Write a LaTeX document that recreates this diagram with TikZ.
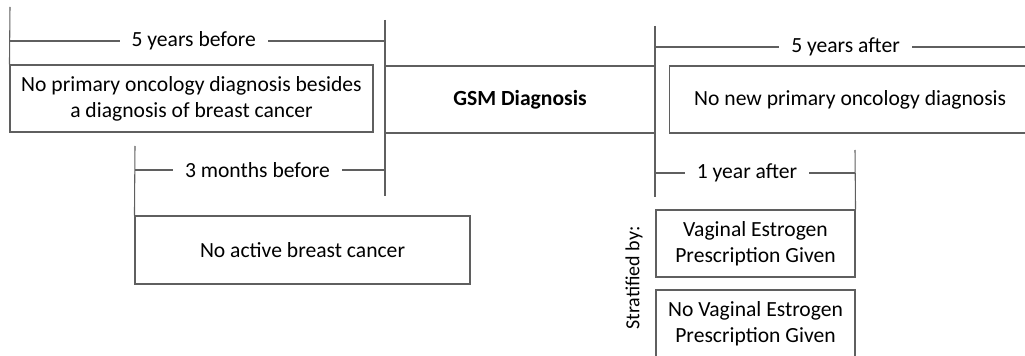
\documentclass[tikz,border=0pt]{standalone}
\usepackage{fontspec}
\setmainfont{Carlito}
\usetikzlibrary{positioning}
\definecolor{linegray}{RGB}{95,95,95}

\tikzset{
    box/.style={draw=linegray, line width=0.8pt, align=center, inner sep=0pt},
    span/.style={draw=linegray, line width=0.8pt},
    spanlabel/.style={fill=white, inner xsep=9pt, inner ysep=1pt}
}

\begin{document}
\begin{tikzpicture}[x=0.75pt, y=-0.75pt, font=\fontsize{16.2}{19.5}\selectfont]
    \useasboundingbox (0,0) rectangle (1025,356);
    \clip (0,0) rectangle (1025,356);

    % boxes
    \node[box, minimum width=272.25pt, minimum height=50.25pt] (before5) at (191.5,98.5)
        {No primary oncology diagnosis besides\\a diagnosis of breast cancer};
    \node[box, minimum width=202.5pt, minimum height=50.25pt, font=\fontsize{16.2}{19.5}\selectfont\bfseries] (gsm) at (520,99.5) {GSM Diagnosis};
    \node[box, minimum width=282pt, minimum height=50.25pt, anchor=west] (after5) at (669,99.5) {\hspace*{-11pt}No new primary oncology diagnosis};
    \node[box, minimum width=251.25pt, minimum height=51pt] (before3) at (302.5,250) {No active breast cancer};
    \node[box, minimum width=149.25pt, minimum height=50.25pt] (estro) at (755.5,243.5)
        {Vaginal Estrogen\\Prescription Given};
    \node[box, minimum width=149.25pt, minimum height=50.25pt] (noestro) at (755.5,323.5)
        {No Vaginal Estrogen\\Prescription Given};
    \node[rotate=90, font=\fontsize{15}{18}\selectfont] (strat) at (634,278) {Stratified by:};

    % bracket ends
    \coordinate (b5top) at (10,7);
    \coordinate (b5mid) at (10,41);
    \coordinate (gsmtop) at (385,20);
    \coordinate (gsmbot) at (385,196);
    \coordinate (a5top) at (655,26);
    \coordinate (a5bot) at (655,197);
    \coordinate (a5mid) at (655,47);
    \coordinate (a5end) at (1030,47);
    \coordinate (b3top) at (135,146);
    \coordinate (b3mid) at (135,170);
    \coordinate (a1mid) at (655,173);
    \coordinate (a1top) at (855,150);

    % spans
    \draw[span] (b5top) -- (before5.north west);
    \draw[span] (gsmtop) -- (gsmbot);
    \draw[span] (a5top) -- (a5bot);
    \draw[span] (b3top) -- (before3.north west);
    \draw[span] (a1top) -- (estro.north east);
    \draw[span] (b5mid) -- (b5mid -| gsmtop) node[spanlabel, pos=0.49] (l5before) {5 years before};
    \draw[span] (a5mid) -- (a5end) node[spanlabel, pos=0.508] (l5after) {5 years after};
    \draw[span] (b3mid) -- (b3mid -| gsmtop) node[spanlabel, pos=0.49] (l3before) {3 months before};
    \draw[span] (a1mid) -- (a1mid -| a1top) node[spanlabel, pos=0.46] (l1after) {1 year after};
\end{tikzpicture}
\end{document}
